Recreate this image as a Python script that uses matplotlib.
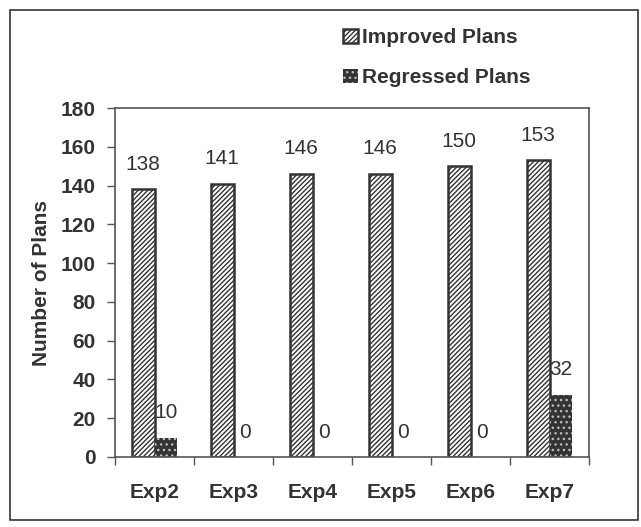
import matplotlib.pyplot as plt
import numpy as np
from matplotlib.patches import Rectangle

plt.rcParams['font.family'] = ['Liberation Sans', 'DejaVu Sans']
plt.rcParams['hatch.linewidth'] = 1.0

experiments = ['Exp2', 'Exp3', 'Exp4', 'Exp5', 'Exp6', 'Exp7']
improved = [138, 141, 146, 146, 150, 153]
regressed = [10, 0, 0, 0, 0, 32]

dark = '#333333'
fs = 15

fig = plt.figure(figsize=(6.41, 5.27), dpi=100)
# outer chart frame
fig.patches.append(Rectangle((10 / 641, 1 - 520 / 527), 628 / 641, 510 / 527,
                             transform=fig.transFigure, fill=False,
                             edgecolor=dark, linewidth=1.2))

ax = fig.add_axes([115 / 641, 1 - 457 / 527, 474 / 641, 349 / 527])

x = np.arange(len(experiments))
w = 0.29
b1 = ax.bar(x - w / 2, improved, w, facecolor='white', edgecolor=dark,
            hatch='///////', linewidth=1.8, label='Improved Plans')
b2 = ax.bar(x + w / 2, regressed, w, facecolor=dark, edgecolor='#bbbbbb',
            hatch='...', linewidth=0, label='Regressed Plans')

for bars, vals in ((b1, improved), (b2, regressed)):
    for bar, v in zip(bars, vals):
        ax.annotate(str(v), (bar.get_x() + bar.get_width() / 2, v),
                    xytext=(0, 18), textcoords='offset points',
                    ha='center', va='center', fontsize=fs, color=dark)

ax.set_xlim(-0.5, len(experiments) - 0.5)
ax.set_ylim(0, 180)
ax.set_yticks(range(0, 181, 20))
ax.set_xticks(x)
ax.set_xticklabels(experiments, fontsize=fs, fontweight='bold', color=dark)
ax.set_xticks(np.arange(-0.5, len(experiments)), minor=True)
ax.tick_params(axis='x', which='major', length=0, pad=19)
ax.tick_params(axis='x', which='minor', length=6, width=1, color='#555555')
ax.tick_params(axis='y', length=6, width=1, color='#555555', labelsize=fs, pad=8)
for lab in ax.get_yticklabels():
    lab.set_fontweight('bold')
    lab.set_color(dark)
for s in ax.spines.values():
    s.set_color('#555555')
    s.set_linewidth(1.2)
ax.set_ylabel('Number of Plans', fontsize=fs, fontweight='bold', color=dark, labelpad=7)

fig.legend(handles=[b1, b2], loc='upper left', bbox_to_anchor=(333 / 641, 1 - 18 / 527),
           frameon=False, prop={'weight': 'bold', 'size': fs},
           handlelength=0.7, handleheight=0.7, handletextpad=0.2, labelspacing=1.0,
           labelcolor=dark, borderpad=0)

fig.savefig('out.png', dpi=100)
